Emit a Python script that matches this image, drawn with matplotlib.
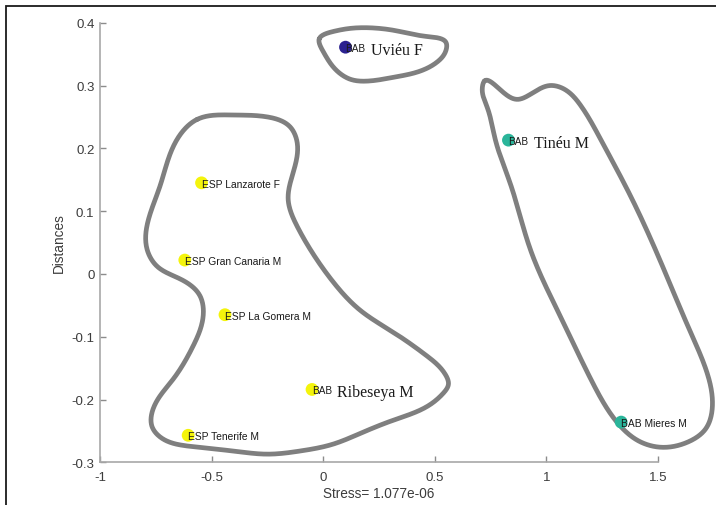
import numpy as np
import matplotlib
matplotlib.use("Agg")
import matplotlib.pyplot as plt
from matplotlib.patches import Rectangle

plt.rcParams["font.family"] = ["Liberation Sans", "DejaVu Sans"]
plt.rcParams["axes.unicode_minus"] = False

# MDS coordinates of each sample
group = ["BAB", "BAB", "ESP", "ESP", "ESP", "BAB", "ESP", "BAB"]
names = ["Uviéu F", "Tinéu M", "Lanzarote F", "Gran Canaria M",
         "La Gomera M", "Ribeseya M", "Tenerife M", "Mieres M"]
x_vals = [0.10, 0.83, -0.545, -0.62, -0.44, -0.05, -0.605, 1.335]
y_vals = [0.361, 0.213, 0.145, 0.022, -0.065, -0.184, -0.257, -0.236]
cluster = [0, 1, 2, 2, 2, 2, 2, 1]
serif_name = [True, True, False, False, False, True, False, False]

cluster_colors = ["#2b2190", "#2ab59a", "#f4f40c"]

x_ticks = [-1, -0.5, 0, 0.5, 1, 1.5]
x_tick_labels = ["-1", "-0.5", "0", "0.5", "1", "1.5"]
y_ticks = [-0.3, -0.2, -0.1, 0, 0.1, 0.2, 0.3, 0.4]
y_tick_labels = ["-0.3", "-0.2", "-0.1", "0", "0.1", "0.2", "0.3", "0.4"]

# hand-drawn outlines around the clusters (vertices of closed smooth curves)
hull_a_x = [-0.018, 0.045, 0.166, 0.314, 0.466, 0.552, 0.547, 0.516, 0.435,
            0.314, 0.197, 0.121, 0.054, 0.000]
hull_a_y = [0.374, 0.386, 0.392, 0.388, 0.378, 0.367, 0.353, 0.339, 0.323,
            0.313, 0.307, 0.310, 0.326, 0.354]

hull_b_x = [-0.565, -0.404, -0.251, -0.148, -0.117, -0.139, -0.157, -0.117,
            -0.058, 0.045, 0.166, 0.314, 0.466, 0.547, 0.561, 0.538, 0.466,
            0.314, 0.166, 0.045, -0.103, -0.251, -0.404, -0.610, -0.717,
            -0.767, -0.762, -0.673, -0.583, -0.538, -0.552, -0.641, -0.744,
            -0.789, -0.776, -0.731, -0.655]
hull_b_y = [0.246, 0.253, 0.250, 0.234, 0.210, 0.156, 0.119, 0.076,
            0.039, -0.013, -0.058, -0.093, -0.131, -0.160, -0.176, -0.190,
            -0.211, -0.233, -0.254, -0.271, -0.282, -0.287, -0.282, -0.274,
            -0.263, -0.243, -0.215, -0.168, -0.115, -0.068, -0.035, -0.008,
            0.012, 0.039, 0.095, 0.140, 0.214]

hull_c_x = [0.722, 0.794, 0.874, 0.942, 1.018, 1.081, 1.152, 1.242, 1.377,
            1.511, 1.646, 1.722, 1.744, 1.713, 1.632, 1.511, 1.408, 1.323,
            1.211, 1.063, 0.928, 0.839, 0.771, 0.735, 0.713]
hull_c_y = [0.307, 0.293, 0.278, 0.289, 0.300, 0.294, 0.269, 0.215, 0.124,
            0.020, -0.093, -0.160, -0.207, -0.247, -0.268, -0.276, -0.265,
            -0.239, -0.176, -0.068, 0.039, 0.143, 0.214, 0.265, 0.297]


def periodic_spline(xs, ys, aspect=(223.0, 628.0), n=30):
    """Closed C2 cubic spline through the vertices (chord-length knots)."""
    p = np.column_stack([xs, ys]).astype(float)
    m = len(p)
    q = p * np.array(aspect)
    h = np.linalg.norm(np.roll(q, -1, axis=0) - q, axis=1)
    A = np.zeros((m, m))
    for i in range(m):
        A[i, (i - 1) % m] += h[i - 1]
        A[i, i] += 2 * (h[i - 1] + h[i])
        A[i, (i + 1) % m] += h[i]
    out = []
    for dim in range(2):
        y = p[:, dim]
        yn = np.roll(y, -1)
        yp = np.roll(y, 1)
        rhs = 6 * ((yn - y) / h - (y - yp) / np.roll(h, 1))
        M = np.linalg.solve(A, rhs)
        Mn = np.roll(M, -1)
        pts = []
        s = np.linspace(0, 1, n, endpoint=False)
        for i in range(m):
            hi = h[i]
            a = (1 - s) * hi
            b = s * hi
            pts.append(M[i] * a ** 3 / (6 * hi) + Mn[i] * b ** 3 / (6 * hi)
                       + (y[i] - M[i] * hi ** 2 / 6) * a / hi
                       + (yn[i] - Mn[i] * hi ** 2 / 6) * b / hi)
        c = np.concatenate(pts)
        out.append(np.append(c, c[0]))
    return out[0], out[1]


fig = plt.figure(figsize=(7.16, 5.06), dpi=100)
ax = fig.add_axes([100 / 716, 1 - 463.3 / 506, 558 / 716, 439.6 / 506])

# outer frame
fig.patches.append(Rectangle((5.5 / 716, -0.1), 1.2, 1.1 - 6.5 / 506,
                             transform=fig.transFigure, fill=False,
                             edgecolor="#1a1a1a", linewidth=1.3))

for hx, hy in [(hull_a_x, hull_a_y), (hull_b_x, hull_b_y), (hull_c_x, hull_c_y)]:
    cx, cy = periodic_spline(hx, hy)
    ax.plot(cx, cy, color="#7f7f7f", linewidth=3.4, solid_capstyle="round",
            solid_joinstyle="round", clip_on=False, zorder=2)

ax.scatter(x_vals, y_vals, s=85, c=[cluster_colors[k] for k in cluster],
           edgecolors="none", zorder=3, clip_on=False)

for xv, yv, g, nm, is_serif in zip(x_vals, y_vals, group, names, serif_name):
    if is_serif:
        t = ax.text(xv, yv, g, fontsize=7.2, ha="left", va="center_baseline",
                    color="#1a1a1a", zorder=4, clip_on=False)
        ax.annotate(nm, xy=(1, yv), xycoords=(t, "data"), xytext=(5, -0.5),
                    textcoords="offset pixels", ha="left",
                    va="center_baseline", fontsize=11.5,
                    family=["Liberation Serif", "DejaVu Serif"],
                    color="#1a1a1a", zorder=4, annotation_clip=False)
    else:
        ax.text(xv, yv, f"{g} {nm}", fontsize=7.4, ha="left",
                va="center_baseline", color="#1a1a1a", zorder=4,
                clip_on=False)

ax.set_xlim(-1, 1.5)
ax.set_ylim(-0.3, 0.4)
ax.set_xticks(x_ticks)
ax.set_xticklabels(x_tick_labels)
ax.set_yticks(y_ticks)
ax.set_yticklabels(y_tick_labels)

for side in ["top", "right"]:
    ax.spines[side].set_visible(False)
for side in ["left", "bottom"]:
    ax.spines[side].set_color("#a8a8a8")
    ax.spines[side].set_linewidth(1.2)

ax.tick_params(axis="both", direction="in", length=4, width=1,
               color="#8c8c8c", labelcolor="#3c3c3c", labelsize=9.5)
ax.tick_params(axis="x", pad=6)
ax.tick_params(axis="y", pad=4)

ax.set_xlabel("Stress= 1.077e-06", fontsize=9.8, color="#3c3c3c")
ax.set_ylabel("Distances", fontsize=9.8, color="#3c3c3c")
ax.xaxis.set_label_coords(0.5, -0.055)
ax.yaxis.set_label_coords(-0.062, 0.5)

fig.savefig("out.png", dpi=100)
